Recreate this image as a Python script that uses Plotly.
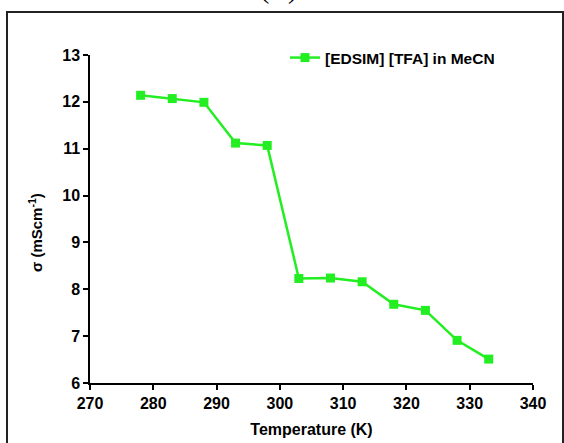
import plotly.graph_objects as go

temperature_K = [278, 283, 288, 293, 298, 303, 308, 313, 318, 323, 328, 333]
conductivity = [12.14, 12.07, 11.99, 11.12, 11.07, 8.23, 8.24, 8.16, 7.68, 7.55, 6.91, 6.51]
series_name = "[EDSIM] [TFA] in MeCN"
x_ticks = [270, 280, 290, 300, 310, 320, 330, 340]
y_ticks = [6, 7, 8, 9, 10, 11, 12, 13]

green = "#22EE22"
font_family = "Liberation Sans, Arial, sans-serif"

fig = go.Figure()
fig.add_trace(go.Scatter(
    x=temperature_K, y=conductivity, mode="lines+markers", name=series_name,
    line=dict(color=green, width=2.5),
    marker=dict(symbol="square", size=9, color=green),
))

W, H = 564, 443
L, R, T, B = 90, 31, 55, 60
pw, ph = W - L - R, H - T - B

def px(xp):
    return (xp - L) / pw

def py(yp):
    return (H - B - yp) / ph

axis_common = dict(
    showline=True, linecolor="black", linewidth=1.5,
    ticks="outside", ticklen=5, tickwidth=1.5, tickcolor="black",
    showgrid=False, zeroline=False,
    tickfont=dict(family=font_family, size=16, color="black", weight="bold"),
    minor=dict(ticks="outside", ticklen=3, tickwidth=1.2, tickcolor="black", nticks=2),
    mirror=False,
)

fig.update_layout(
    width=W, height=H,
    margin=dict(l=L, r=R, t=T, b=B, autoexpand=False),
    paper_bgcolor="white", plot_bgcolor="white",
    showlegend=True,
    legend=dict(
        x=px(285), y=py(41), xanchor="left", yanchor="top",
        font=dict(family=font_family, size=15.5, color="black", weight="bold"),
        bgcolor="rgba(0,0,0,0)", itemwidth=30,
    ),
    xaxis=dict(
        range=[270, 340], tickvals=x_ticks, ticktext=[str(v) for v in x_ticks],
        title=dict(text="Temperature (K)", standoff=13,
                   font=dict(family=font_family, size=16, color="black", weight="bold")),
        **axis_common,
    ),
    yaxis=dict(
        range=[6, 13], tickvals=y_ticks, ticktext=[str(v) for v in y_ticks],
        **axis_common,
    ),
)

fig.add_annotation(text="σ (mScm<sup>-1</sup>)", xref="paper", yref="paper",
                   x=px(35), y=py(233), xanchor="center", yanchor="middle",
                   textangle=-90, showarrow=False,
                   font=dict(family=font_family, size=15, color="black", weight="bold"))

fig.add_shape(type="rect", xref="paper", yref="paper",
              x0=px(7), x1=px(563), y0=py(460), y1=py(12),
              line=dict(color="#222222", width=2), fillcolor="rgba(0,0,0,0)", layer="below")

fig.add_annotation(text="(C)", xref="paper", yref="paper", x=px(278), y=py(6),
                   xanchor="center", yanchor="bottom", showarrow=False,
                   font=dict(family="Liberation Serif, Times New Roman, serif", size=28, color="black"))

fig.write_html("out.html")
